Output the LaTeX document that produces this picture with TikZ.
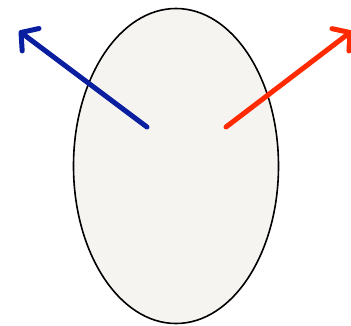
\documentclass[tikz,border=0pt]{standalone}
\usetikzlibrary{shapes.geometric,arrows.meta}
\definecolor{bodyfill}{HTML}{F5F4F0}
\definecolor{leftblue}{HTML}{0A1FA0}
\definecolor{rightred}{HTML}{FF2A00}

\begin{document}
\begin{tikzpicture}[x=1pt,y=-1pt,
  vec/.style={line width=5pt,line cap=round,line join=round,
    -{Straight Barb[length=12pt,width=28pt,line cap=round,line join=round]}}]
  \useasboundingbox (0,0) rectangle (351,325);
  \node[ellipse,draw,line width=1.6pt,fill=bodyfill,
    minimum width=205pt,minimum height=315pt,inner sep=0pt] (body) at (176,166) {};
  \coordinate (lefttail) at (147,127);
  \coordinate (lefthead) at (19,31);
  \coordinate (righttail) at (226,127);
  \coordinate (righthead) at (352,31);
  \draw[vec,leftblue] (lefttail) -- (lefthead);
  \draw[vec,rightred] (righttail) -- (righthead);
\end{tikzpicture}
\end{document}
